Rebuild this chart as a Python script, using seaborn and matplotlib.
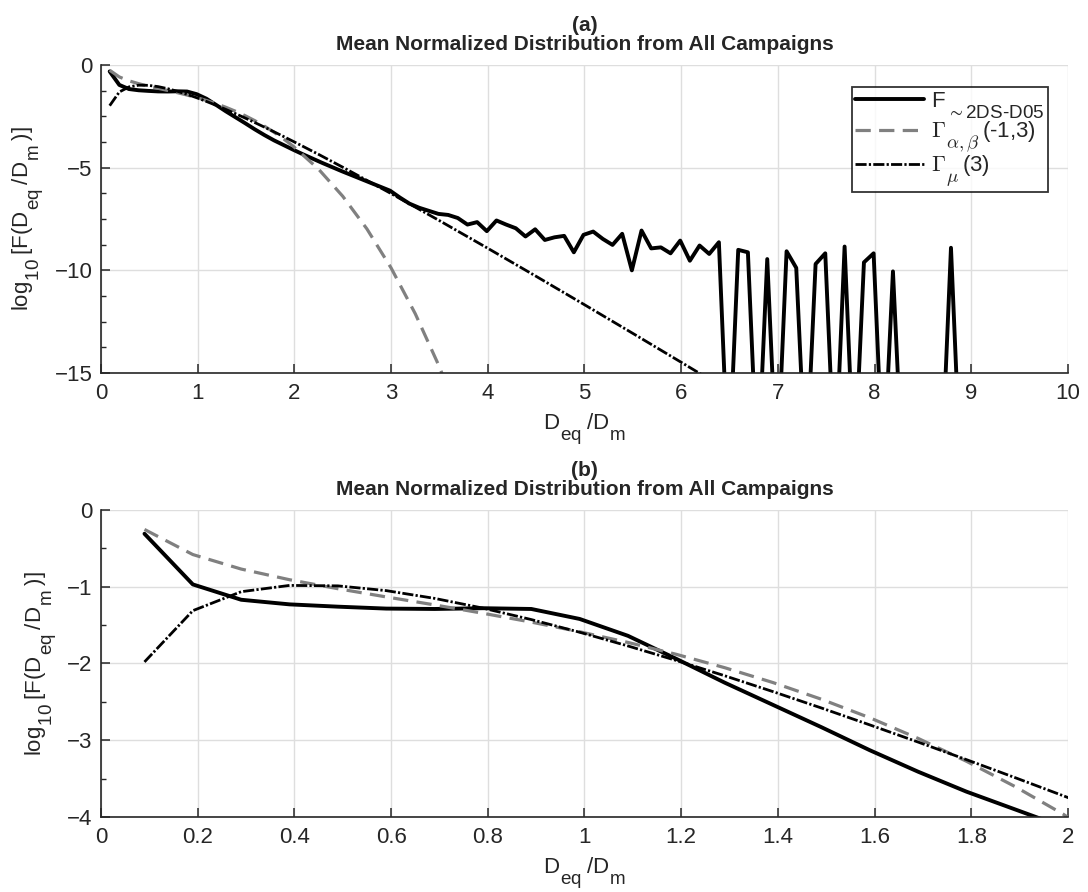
import numpy as np
import pandas as pd
import seaborn as sns
import matplotlib.pyplot as plt
import matplotlib._mathtext as mathtext_internals
from matplotlib.ticker import MultipleLocator, FuncFormatter

# bin centres of D_eq/D_m and the measured normalized distribution
x_bins = [0.09, 0.19, 0.29, 0.39, 0.49, 0.59, 0.69, 0.79, 0.89, 0.99,
          1.09, 1.19, 1.29, 1.39, 1.49, 1.59, 1.69, 1.79, 1.89, 1.99,
          2.09, 2.19, 2.29, 2.39, 2.49, 2.59, 2.69, 2.79, 2.89, 2.99,
          3.09, 3.19, 3.29, 3.39, 3.49, 3.59, 3.69, 3.79, 3.89, 3.99,
          4.09, 4.19, 4.29, 4.39, 4.49, 4.59, 4.69, 4.79, 4.89, 4.99,
          5.09, 5.19, 5.29, 5.39, 5.49, 5.59, 5.69, 5.79, 5.89, 5.99,
          6.09, 6.19, 6.29, 6.39, 6.49, 6.59, 6.69, 6.79, 6.89, 6.99,
          7.09, 7.19, 7.29, 7.39, 7.49, 7.59, 7.69, 7.79, 7.89, 7.99,
          8.09, 8.19, 8.29, 8.39, 8.49, 8.59, 8.69, 8.79, 8.89, 8.99]
f_2ds = [-0.31, -0.97, -1.17, -1.23, -1.26, -1.285, -1.29, -1.28, -1.29, -1.42,
         -1.64, -1.94, -2.25, -2.54, -2.83, -3.13, -3.41, -3.67, -3.90, -4.13,
         -4.35, -4.56, -4.77, -4.97, -5.17, -5.36, -5.55, -5.74, -5.93, -6.12,
         -6.45, -6.75, -6.95, -7.10, -7.25, -7.30, -7.45, -7.77, -7.65, -8.09,
         -7.57, -7.77, -7.95, -8.35, -8.00, -8.52, -8.39, -8.32, -9.12, -8.27,
         -8.11, -8.47, -8.76, -8.22, -10.0, -8.06, -8.93, -8.88, -9.17, -8.55,
         -9.53, -8.79, -9.20, -8.63, -20.0, -9.00, -9.12, -20.0, -9.45, -20.0,
         -9.07, -9.88, -20.0, -9.69, -9.17, -20.0, -8.84, -20.0, -9.61, -9.17,
         -20.0, -10.05, -20.0, -20.0, -20.0, -20.0, -20.0, -8.90, -20.0, -20.0]

# generalized gamma fit, alpha=-1, beta=3
x_gab = [0.09, 0.19, 0.29, 0.39, 0.49, 0.59, 0.69, 0.79, 0.89, 0.99,
         1.09, 1.19, 1.29, 1.39, 1.49, 1.59, 1.69, 1.79, 1.89, 1.99,
         2.25, 2.5, 2.75, 3.0, 3.25, 3.5, 3.75]
gamma_ab = [-0.254, -0.581, -0.770, -0.909, -1.026, -1.133, -1.237, -1.346, -1.461, -1.587,
            -1.726, -1.881, -2.055, -2.249, -2.466, -2.707, -2.976, -3.274, -3.602, -3.963,
            -5.07, -6.39, -7.98, -9.88, -12.11, -14.70, -17.7]

# gamma fit, mu=3
x_gmu = [0.09, 0.19, 0.29, 0.39, 0.49, 0.59, 0.69, 0.79, 0.89, 0.99,
         1.09, 1.19, 1.29, 1.39, 1.49, 1.59, 1.69, 1.79, 1.89, 1.99,
         2.25, 2.5, 3.0, 3.5, 4.0, 4.5, 5.0, 5.5, 6.0, 6.5]
gamma_mu = [-1.98, -1.312, -1.065, -0.983, -0.989, -1.051, -1.152, -1.279, -1.428, -1.593,
            -1.772, -1.961, -2.160, -2.367, -2.580, -2.800, -3.024, -3.253, -3.486, -3.723,
            -4.35, -4.976, -6.259, -7.578, -8.924, -10.29, -11.673, -13.069, -14.476, -15.891]

lab_f = 'F$_{\\mathregular{\\sim2DS\u2010D05}}$'
lab_ab = r'$\Gamma_{\alpha,\beta}$(-1,3)'
lab_mu = r'$\Gamma_{\mu}$(3)'
xlab = r'D$_{\mathregular{eq}}$/D$_{\mathregular{m}}$'
ylab = r'log$_{\mathregular{10}}$[F(D$_{\mathregular{eq}}$/D$_{\mathregular{m}}$)]'

sns.set_style("ticks")
plt.rcParams['font.family'] = ['Liberation Sans', 'DejaVu Sans']
plt.rcParams['mathtext.fontset'] = 'cm'
plt.rcParams['lines.scale_dashes'] = False
# MATLAB-style subscripts: nearly full size, dropped lower, with a gap after
mathtext_internals.SHRINK_FACTOR = 0.85
for consts in (mathtext_internals.FontConstantsBase,
               mathtext_internals.ComputerModernFontConstants):
    consts.sub1 = 0.6
    consts.subdrop = 0.5
    consts.script_space = 0.25

dark = '#262626'
fig = plt.figure(figsize=(10.88, 8.92), dpi=100)
ax1 = fig.add_axes([0.0928, 0.5818, 0.8888, 0.3453])
ax2 = fig.add_axes([0.0928, 0.0841, 0.8888, 0.3442])


def fmt(v, p):
    return ('%g' % v).replace('-', '\u2212')


def draw(ax, with_labels):
    sns.lineplot(x=x_bins, y=f_2ds, ax=ax, color='black', lw=2.8, sort=False,
                 estimator=None, label=lab_f if with_labels else None, legend=False)
    sns.lineplot(x=x_gab, y=gamma_ab, ax=ax, color='#808080', lw=2.3, sort=False,
                 estimator=None, label=lab_ab if with_labels else None,
                 legend=False, linestyle=(0, (11, 6)))
    sns.lineplot(x=x_gmu, y=gamma_mu, ax=ax, color='black', lw=2.0, sort=False,
                 estimator=None, label=lab_mu if with_labels else None,
                 legend=False, linestyle=(0, (8, 1.6, 1.6, 1.6)))
    ax.grid(True, which='major', color='#dedede', lw=1.0)
    ax.set_axisbelow(True)
    sns.despine(ax=ax)
    for s in ['left', 'bottom']:
        ax.spines[s].set_color(dark)
        ax.spines[s].set_linewidth(1.2)
    ax.tick_params(which='both', direction='in', colors=dark, labelsize=16,
                   top=False, right=False)
    ax.tick_params(axis='x', pad=7)
    ax.tick_params(axis='y', pad=6)
    ax.tick_params(which='major', length=6.5, width=1.1)
    ax.tick_params(which='minor', length=3.5, width=1.0)
    ax.xaxis.set_major_formatter(FuncFormatter(fmt))
    ax.yaxis.set_major_formatter(FuncFormatter(fmt))
    ax.set_xlabel(xlab, fontsize=16, color=dark, labelpad=6)
    ax.set_ylabel(ylab, fontsize=16, color=dark, labelpad=6)


draw(ax1, True)
ax1.set_xlim(0, 10)
ax1.set_ylim(-15, 0)
ax1.xaxis.set_major_locator(MultipleLocator(1))
ax1.yaxis.set_major_locator(MultipleLocator(5))
ax1.yaxis.set_minor_locator(MultipleLocator(1.25))
ax1.set_title('(a)\nMean Normalized Distribution from All Campaigns',
              fontsize=15, fontweight='bold', linespacing=1.0, pad=11)
leg = ax1.legend(loc='upper right', bbox_to_anchor=(0.979, 0.929), borderaxespad=0,
                 fontsize=16, handlelength=3.1, handletextpad=0.3, borderpad=0.15,
                 labelspacing=-0.03, fancybox=False, frameon=True)
leg.get_frame().set_edgecolor('black')
leg.get_frame().set_linewidth(1.3)

draw(ax2, False)
ax2.set_xlim(0, 2)
ax2.set_ylim(-4, 0)
ax2.xaxis.set_major_locator(MultipleLocator(0.2))
ax2.yaxis.set_major_locator(MultipleLocator(1))
ax2.yaxis.set_minor_locator(MultipleLocator(0.5))
ax2.set_title('(b)\nMean Normalized Distribution from All Campaigns',
              fontsize=15, fontweight='bold', linespacing=1.0, pad=11)

fig.savefig('out.png', dpi=100)
